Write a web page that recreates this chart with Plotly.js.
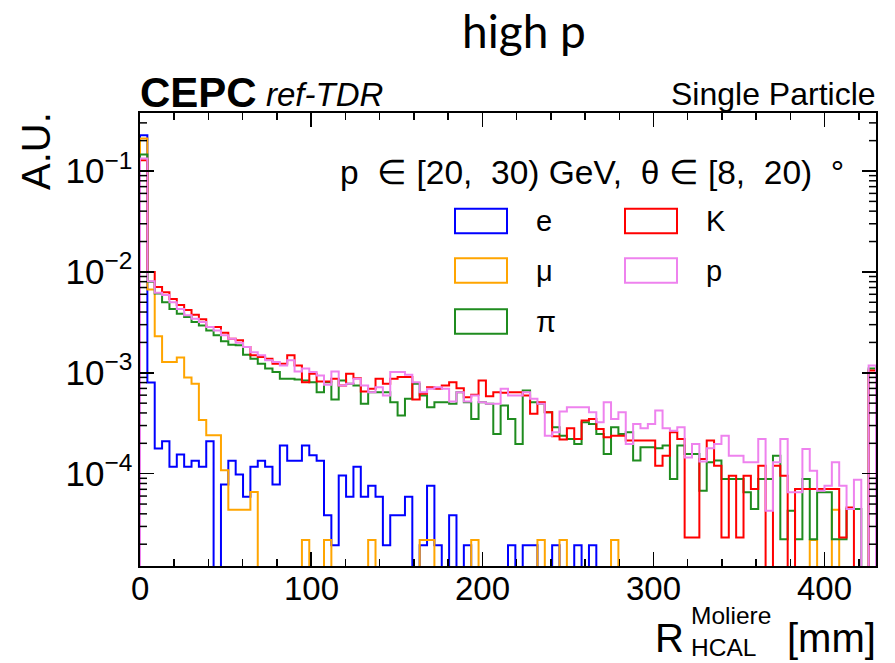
<!DOCTYPE html>
<html><head><meta charset="utf-8">
<script src="https://cdn.plot.ly/plotly-3.0.1.min.js"></script>
<style>html,body{margin:0;padding:0;background:#fff}#chart{width:895px;height:663px}</style>
</head><body><div id="chart"></div>
<script>
// ---- data: 100 bins of width 4.3 mm over [0, 430] ----
const binWidth = 4.3;
const nBins = 100;
const xTickVals = [0, 100, 200, 300, 400];
const legendLabels = ['e', 'μ', 'π', 'K', 'p'];

const eVals = [0.226, 8.0e-4, 1.78e-4, 2.1e-4, 1.17e-4, 1.55e-4, 1.17e-4, 1.34e-4, 1.17e-4, 2.1e-4,
 0, 7.8e-5, 1.34e-4, 9.8e-5, 5.9e-5, 1.17e-4, 1.34e-4, 1.17e-4, 7.8e-5, 1.9e-4,
 1.34e-4, 1.34e-4, 1.9e-4, 1.52e-4, 1.34e-4, 3.87e-5, 1.95e-5, 9.6e-5, 5.9e-5, 1.17e-4,
 5.9e-5, 7.6e-5, 5.9e-5, 1.95e-5, 3.87e-5, 3.87e-5, 5.9e-5, 0, 1.95e-5, 7.6e-5,
 1.95e-5, 0, 3.87e-5, 0, 1.95e-5, 0, 0, 0, 0, 0,
 1.95e-5, 0, 1.95e-5, 1.95e-5, 0, 0, 1.95e-5, 0, 0, 1.95e-5,
 0, 1.95e-5, 0, 0, 0, 0, 0, 0, 0, 0,
 0, 0, 0, 0, 0, 0, 0, 0, 0, 0,
 0, 0, 0, 0, 0, 0, 0, 0, 0, 0,
 0, 0, 0, 0, 0, 0, 0, 0, 0, 0];

const muVals = [0.21, 6.7e-3, 2.3e-3, 1.28e-3, 1.28e-3, 1.42e-3, 9.0e-4, 7.8e-4, 3.4e-4, 2.4e-4,
 2.4e-4, 1.08e-4, 4.4e-5, 4.4e-5, 4.4e-5, 6.6e-5, 0, 0, 0, 0,
 0, 0, 2.2e-5, 0, 0, 2.2e-5, 0, 0, 0, 0,
 0, 2.2e-5, 0, 0, 0, 0, 0, 0, 2.2e-5, 2.2e-5,
 0, 0, 0, 0, 0, 2.2e-5, 0, 0, 0, 0,
 0, 0, 0, 0, 2.2e-5, 0, 0, 2.2e-5, 0, 0,
 0, 0, 0, 0, 2.2e-5, 0, 0, 0, 0, 0,
 0, 0, 0, 0, 0, 0, 0, 0, 0, 0,
 0, 0, 0, 0, 0, 0, 0, 0, 0, 0,
 0, 2.2e-5, 0, 0, 4.4e-5, 0, 0, 0, 0, 0];

const piVals = [0.146, 8.0e-3, 6.1e-3, 5.0e-3, 4.3e-3, 3.85e-3, 3.57e-3, 3.19e-3, 2.95e-3, 2.63e-3,
 2.35e-3, 2.05e-3, 1.9e-3, 1.87e-3, 1.51e-3, 1.38e-3, 1.23e-3, 1.10e-3, 1.02e-3, 8.72e-4,
 8.72e-4, 8.59e-4, 8.39e-4, 8.07e-4, 6.43e-4, 8.07e-4, 5.43e-4, 8.39e-4, 7.77e-4, 7.48e-4,
 4.92e-4, 6.43e-4, 6.43e-4, 6.43e-4, 5.11e-4, 3.77e-4, 5.52e-4, 7.77e-4, 5.95e-4, 4.56e-4,
 5.11e-4, 5.11e-4, 4.92e-4, 6.43e-4, 5.11e-4, 3.49e-4, 5.11e-4, 4.92e-4, 2.48e-4, 4.74e-4,
 3.49e-4, 1.97e-4, 6.68e-4, 5.11e-4, 4.92e-4, 4.07e-4, 2.89e-4, 2.38e-4, 2.21e-4, 1.97e-4,
 3.24e-4, 3.11e-4, 2.48e-4, 1.57e-4, 2.89e-4, 2.48e-4, 2.57e-4, 1.35e-4, 1.83e-4, 1.83e-4,
 1.79e-4, 1.90e-4, 8.85e-5, 1.90e-4, 1.57e-4, 1.57e-4, 6.78e-5, 1.30e-4, 1.35e-4, 8.85e-5,
 8.85e-5, 8.85e-5, 6.53e-5, 4.46e-5, 8.85e-5, 8.85e-5, 1.51e-4, 2.24e-5, 4.29e-5, 2.24e-5,
 8.85e-5, 2.24e-5, 6.53e-5, 6.53e-5, 2.24e-5, 2.24e-5, 4.46e-5, 4.46e-5, 0, 1.10e-3];

const kVals = [0.128, 1.0e-2, 7.1e-3, 6.3e-3, 5.4e-3, 4.7e-3, 4.2e-3, 3.77e-3, 3.39e-3, 2.84e-3,
 2.84e-3, 2.5e-3, 2.18e-3, 2.1e-3, 1.8e-3, 1.49e-3, 1.43e-3, 1.38e-3, 1.23e-3, 1.23e-3,
 1.49e-3, 1.18e-3, 8.07e-4, 9.77e-4, 8.2e-4, 8.2e-4, 8.72e-4, 7.48e-4, 9.77e-4, 8.85e-4,
 6.53e-4, 6.93e-4, 8.72e-4, 7.77e-4, 8.72e-4, 9.06e-4, 9.06e-4, 5.43e-4, 6.19e-4, 7.2e-4,
 6.93e-4, 7.48e-4, 8.07e-4, 7.04e-4, 5.73e-4, 6.05e-4, 8.39e-4, 5.86e-4, 6.43e-4, 6.33e-4,
 6.43e-4, 6.43e-4, 5.95e-4, 3.92e-4, 5.11e-4, 4.07e-4, 2.35e-4, 2.18e-4, 2.82e-4, 2.21e-4,
 3.36e-4, 3.49e-4, 2.78e-4, 2.30e-4, 2.38e-4, 2.38e-4, 2.13e-4, 2.13e-4, 2.13e-4, 2.13e-4,
 1.20e-4, 1.51e-4, 2.57e-4, 2.21e-4, 2.33e-5, 2.33e-5, 1.40e-4, 2.13e-4, 1.20e-4, 2.33e-5,
 9.55e-5, 2.33e-5, 9.55e-5, 7.04e-5, 1.20e-4, 0, 1.20e-4, 9.55e-5, 0, 7.04e-5,
 7.04e-5, 7.04e-5, 7.04e-5, 7.04e-5, 7.04e-5, 2.33e-5, 4.63e-5, 0, 0, 1.055e-3];

const pVals = [0.133, 8.1e-3, 6.2e-3, 5.9e-3, 5.0e-3, 4.3e-3, 3.71e-3, 3.44e-3, 3.19e-3, 2.84e-3,
 2.63e-3, 2.35e-3, 2.18e-3, 1.99e-3, 1.8e-3, 1.6e-3, 1.49e-3, 1.33e-3, 1.28e-3, 1.18e-3,
 1.33e-3, 1.03e-3, 1.10e-3, 1.02e-3, 9.41e-4, 7.6e-4, 1.03e-3, 7.48e-4, 7.77e-4, 8.72e-4,
 7.48e-4, 6.43e-4, 7.2e-4, 5.95e-4, 1.02e-3, 1.02e-3, 9.55e-4, 8.07e-4, 6.43e-4, 6.93e-4,
 7.2e-4, 6.93e-4, 5.19e-4, 6.43e-4, 5.19e-4, 5.95e-4, 5.11e-4, 4.92e-4, 4.92e-4, 6.93e-4,
 5.95e-4, 5.95e-4, 6.43e-4, 5.52e-4, 4.92e-4, 2.38e-4, 2.57e-4, 4.13e-4, 4.56e-4, 4.56e-4,
 4.56e-4, 4.07e-4, 3.24e-4, 5.11e-4, 3.49e-4, 4.07e-4, 1.97e-4, 3.11e-4, 2.82e-4, 3.11e-4,
 4.22e-4, 2.82e-4, 2.67e-4, 2.89e-4, 1.45e-4, 1.97e-4, 1.32e-4, 1.79e-4, 1.97e-4, 2.38e-4,
 1.51e-4, 1.51e-4, 1.30e-4, 1.30e-4, 2.21e-4, 4.29e-5, 1.30e-4, 2.21e-4, 6.53e-5, 6.53e-5,
 1.76e-4, 1.07e-4, 6.78e-5, 7.6e-5, 1.30e-4, 7.6e-5, 4.46e-5, 8.72e-5, 0, 1.18e-3];

// ---- styling ----
const colors = {e:'#0000ff', mu:'#ffa500', pi:'#1f8c1f', K:'#ff0000', p:'#ee82ee'};
const FONT = '"Liberation Sans", Arial, Helvetica, sans-serif';
const L = 140, R = 876, T = 113, B = 566;
const yRange = [-4.915, -0.425];
function px(x){ return (x - L) / (R - L); }
function py(y){ return (B - y) / (B - T); }
const FLOOR = 1e-7; // empty bins drawn down past the frame (ROOT style)

function stepTrace(vals, name, color){
  const x = [0], y = [FLOOR];
  for (let i = 0; i < vals.length; i++){ x.push(i * binWidth); y.push(vals[i] > 0 ? vals[i] : FLOOR); }
  x.push(vals.length * binWidth); y.push(FLOOR);
  return {type:'scatter', mode:'lines', x:x, y:y, name:name,
          line:{color:color, width:2, shape:'hv'}, hoverinfo:'skip', showlegend:false};
}

const traces = [
  stepTrace(eVals, 'e', colors.e),
  stepTrace(muVals, 'μ', colors.mu),
  stepTrace(piVals, 'π', colors.pi),
  stepTrace(kVals, 'K', colors.K),
  stepTrace(pVals, 'p', colors.p)
];

const shapes = [], annotations = [];

// log-axis minor ticks (2..9 per decade) on left and right frame
const minorLenX = 7 / (R - L);
for (let d = -5; d <= -1; d++){
  for (let m = 2; m <= 9; m++){
    const lv = Math.log10(m) + d;
    if (lv <= yRange[0] || lv >= yRange[1]) continue;
    const yp = (lv - yRange[0]) / (yRange[1] - yRange[0]);
    shapes.push({type:'line', xref:'paper', yref:'paper', x0:0, x1:minorLenX, y0:yp, y1:yp, line:{color:'black', width:1.5}});
    shapes.push({type:'line', xref:'paper', yref:'paper', x0:1-minorLenX, x1:1, y0:yp, y1:yp, line:{color:'black', width:1.5}});
  }
}

// legend built from shapes + annotations (open boxes like ROOT)
const legendItems = [
  {label:legendLabels[0], color:colors.e,  col:0, row:0},
  {label:legendLabels[1], color:colors.mu, col:0, row:1},
  {label:legendLabels[2], color:colors.pi, col:0, row:2},
  {label:legendLabels[3], color:colors.K,  col:1, row:0},
  {label:legendLabels[4], color:colors.p,  col:1, row:1}
];
const colX = [455, 625], rowY = [221, 270.5, 321.5], boxW = 52, boxH = 24.5;
legendItems.forEach(it => {
  const x0 = colX[it.col], yc = rowY[it.row];
  shapes.push({type:'rect', xref:'paper', yref:'paper', x0:px(x0), x1:px(x0+boxW),
    y0:py(yc+boxH/2), y1:py(yc-boxH/2), line:{color:it.color, width:2}, fillcolor:'rgba(0,0,0,0)'});
  annotations.push({xref:'paper', yref:'paper', x:px(x0+boxW+27), y:py(yc), xanchor:'left', yanchor:'middle',
    text:it.label, showarrow:false, font:{family:FONT, size:29, color:'black'}});
});

function ann(text, x, y, xa, ya, size, extra){
  return Object.assign({xref:'paper', yref:'paper', x:px(x), y:py(y), xanchor:xa, yanchor:ya,
    text:text, showarrow:false, font:{family:FONT, size:size, color:'black'}}, extra||{});
}
// x tick labels
xTickVals.forEach(v => {
  annotations.push({xref:'x', yref:'paper', x:v, y:py(588), xanchor:'center', yanchor:'middle',
    text:String(v), showarrow:false, font:{family:FONT, size:33, color:'black'}});
});
const nb = '\u00A0';
annotations.push(ann('high p', 524, 31, 'center', 'middle', 46, {font:{family:'Lato, "Open Sans", sans-serif', size:46, color:'black'}}));
annotations.push(ann('<b>CEPC</b>', 138, 92, 'left', 'middle', 42));
annotations.push(ann('<i>ref-TDR</i>', 264, 94, 'left', 'middle', 33));
annotations.push(ann('Single Particle', 878, 94, 'right', 'middle', 32));
annotations.push(ann('p'+nb+nb+'∈'+nb+'[20,'+nb+nb+'30)'+nb+'GeV,'+nb+nb+'θ'+nb+'∈'+nb+'[8,'+nb+nb+'20)'+nb+nb+'°', 846, 172, 'right', 'middle', 33.5));
annotations.push(ann('A.U.', 36, 151, 'center', 'middle', 40, {textangle:-90}));
annotations.push(ann('R', 686, 638, 'right', 'middle', 40));
annotations.push(ann('Moliere', 689, 615, 'left', 'middle', 24.5));
annotations.push(ann('HCAL', 689, 647, 'left', 'middle', 24.5));
annotations.push(ann('[mm]', 878, 638, 'right', 'middle', 40));

const layout = {
  width:895, height:663,
  margin:{l:L, r:895-R, t:T, b:663-B, pad:0},
  paper_bgcolor:'white', plot_bgcolor:'white',
  showlegend:false,
  font:{family:FONT, color:'black'},
  xaxis:{range:[0, nBins*binWidth], tickvals:xTickVals, showticklabels:false,
    showline:true, linecolor:'black', linewidth:2, mirror:'allticks',
    ticks:'inside', ticklen:14, tickwidth:1.5, tickcolor:'black',
    showgrid:false, zeroline:false,
    minor:{ticks:'inside', ticklen:7, tickwidth:1.5, tickcolor:'black', dtick:20, tick0:0, showgrid:false}},
  yaxis:{type:'log', range:yRange, dtick:1, exponentformat:'power',
    showline:true, linecolor:'black', linewidth:2, mirror:'allticks',
    ticks:'inside', ticklen:14, tickwidth:1.5, tickcolor:'black',
    tickfont:{family:FONT, size:28, color:'black'}, ticklabelstandoff:0,
    showgrid:false, zeroline:false},
  shapes:shapes,
  annotations:annotations
};

Plotly.newPlot('chart', traces, layout, {displayModeBar:false, staticPlot:true});
</script>
</body></html>
